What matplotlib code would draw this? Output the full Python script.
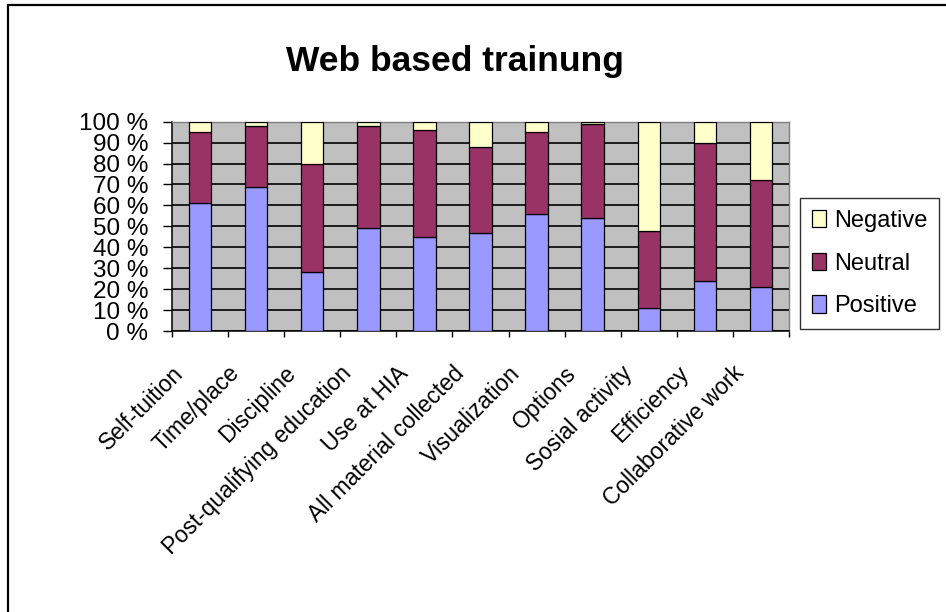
import numpy as np
import matplotlib
matplotlib.use("Agg")
import matplotlib.pyplot as plt
from matplotlib.patches import Rectangle
from matplotlib.transforms import ScaledTranslation

plt.rcParams['font.family'] = ['Liberation Sans', 'DejaVu Sans']

categories = ["Self-tuition", "Time/place", "Discipline", "Post-qualifying education",
              "Use at HIA", "All material collected", "Visualization", "Options",
              "Sosial activity", "Efficiency", "Collaborative work"]
positive = [61, 69, 28, 49, 45, 47, 56, 54, 11, 24, 21]
neutral = [34, 29, 52, 49, 51, 41, 39, 45, 37, 66, 51]
negative = [5, 2, 20, 2, 4, 12, 5, 1, 52, 10, 28]
y_ticks = [0, 10, 20, 30, 40, 50, 60, 70, 80, 90, 100]
y_tick_labels = [f"{v} %" for v in y_ticks]

c_pos, c_neu, c_neg = "#9999FF", "#993366", "#FFFFCC"

W, H = 946, 612
fig = plt.figure(figsize=(W / 100, H / 100), dpi=100)
fig.patch.set_facecolor("white")

# chart-area frame
fig.patches.append(Rectangle((8 / W, -0.05), 1.2, 1 - 5 / H + 0.05, transform=fig.transFigure,
                             fill=False, edgecolor="black", linewidth=1.6))

ax = fig.add_axes([172 / W, 1 - 331 / H, (789 - 172) / W, (331 - 121.7) / H])
ax.set_facecolor("#C0C0C0")

x = np.arange(len(categories))
pos = np.array(positive)
neu = np.array(neutral)
neg = np.array(negative)
kw = dict(width=0.4, edgecolor="black", linewidth=0.9, zorder=3)
b1 = ax.bar(x, pos, color=c_pos, label="Positive", **kw)
b2 = ax.bar(x, neu, bottom=pos, color=c_neu, label="Neutral", **kw)
b3 = ax.bar(x, neg, bottom=pos + neu, color=c_neg, label="Negative", **kw)

ax.set_xlim(-0.5, len(categories) - 0.5)
ax.set_ylim(0, 100)
ax.set_yticks(y_ticks, labels=y_tick_labels)
ax.yaxis.grid(True, color="black", linewidth=1.2, zorder=1)
ax.set_axisbelow(True)

ax.tick_params(axis="y", direction="out", length=6.5, width=1, pad=10.5, labelsize=17.5)

# category boundaries as minor ticks, labels on major ticks
ax.set_xticks(x, labels=categories)
ax.set_xticks(np.arange(-0.5, len(categories), 1), minor=True)
ax.tick_params(axis="x", which="major", length=0, pad=22, labelsize=16.5)
ax.tick_params(axis="x", which="minor", direction="out", length=4.5, width=1)
shift = ScaledTranslation(-12 / 100, 0, fig.dpi_scale_trans)
for lab in ax.get_xticklabels():
    lab.set_rotation(45)
    lab.set_ha("right")
    lab.set_va("top")
    lab.set_transform(lab.get_transform() + shift)

for side in ("left", "bottom"):
    ax.spines[side].set_color("black")
    ax.spines[side].set_linewidth(1.1)
for side in ("top", "right"):
    ax.spines[side].set_color("#808080")
    ax.spines[side].set_linewidth(1.0)

fig.text(455 / W, 1 - 62 / H, "Web based trainung", ha="center", va="center",
         fontsize=25.5, fontweight="bold")

leg = fig.legend(handles=[b3, b2, b1], labels=["Negative", "Neutral", "Positive"],
                 loc="upper left", bbox_to_anchor=(800 / W, 1 - 198 / H),
                 fontsize=17, frameon=True, fancybox=False, shadow=False,
                 borderaxespad=0, handlelength=0.6, handleheight=0.75,
                 handletextpad=0.35, labelspacing=0.88, borderpad=0.5)
leg.get_frame().set_edgecolor("black")
leg.get_frame().set_linewidth(1.0)
leg.get_frame().set_facecolor("white")
for h in leg.legend_handles:
    h.set_edgecolor("black")
    h.set_linewidth(0.9)

fig.savefig("out.png", dpi=100)
